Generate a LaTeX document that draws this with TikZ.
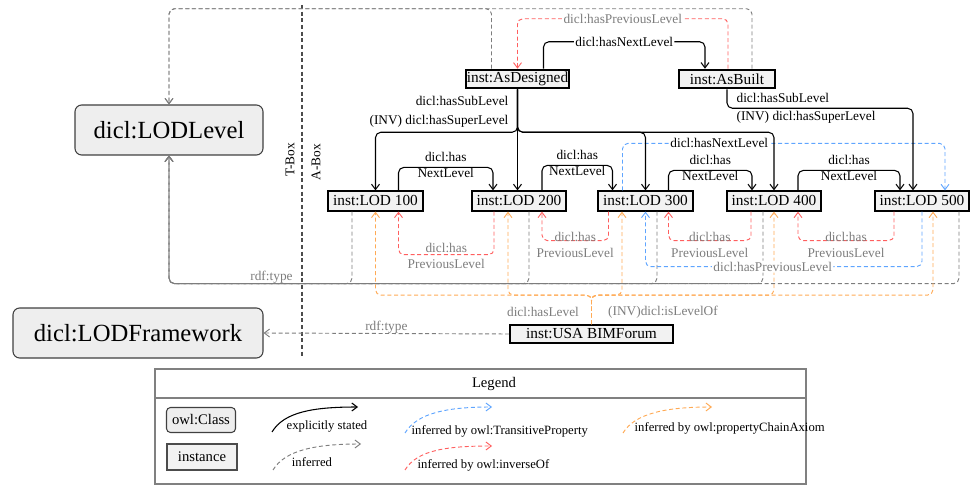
\documentclass[tikz,border=0pt]{standalone}
\usepackage{fontspec}
\setmainfont{Liberation Serif}
\usepackage{xcolor}
\usepackage{tikz}
\usetikzlibrary{positioning,calc,arrows.meta}

\begin{document}
\begin{tikzpicture}[x=0.75pt,y=-0.75pt]
	\definecolor{lodgray}{RGB}{125,125,125}
	\definecolor{lodred}{RGB}{255,95,95}
	\definecolor{lodblue}{RGB}{95,165,255}
	\definecolor{lodorange}{RGB}{255,170,85}
	\definecolor{boxgray}{RGB}{238,238,238}
	\tikzset{
		cls/.style={
			rectangle,
			rounded corners=5pt,
			draw=black!75,
			fill=boxgray,
			line width=0.8pt,
			inner sep=0pt,
			font=\fontsize{18.5}{22}\selectfont
		},
		inst/.style={
			rectangle,
			draw=black,
			fill=black!5,
			line width=1.4pt,
			inner sep=0.5pt,
			minimum width=71pt,
			minimum height=14.5pt,
			font=\fontsize{11.5}{13}\selectfont
		},
		lbl/.style={
			font=\fontsize{10}{12}\selectfont,
			align=center,
			inner sep=1pt
		},
		lblg/.style={lbl, text=lodgray},
		conn/.style={
			rounded corners=4pt,
			-{Straight Barb[length=4pt,width=6pt]}
		},
		expl/.style={conn, draw=black, line width=0.8pt},
		inf/.style={conn, draw=lodgray, line width=0.7pt, dashed, dash pattern=on 3pt off 2pt},
		trans/.style={inf, draw=lodblue},
		inv/.style={inf, draw=lodred},
		chain/.style={inf, draw=lodorange},
		legbd/.style={draw=black!50, line width=1.5pt}
	}
	\useasboundingbox (0,0) rectangle (974,488);

	% ======= T-Box / A-Box =======
	\draw[draw=black!70, line width=1.2pt, dashed, dash pattern=on 3pt off 2pt] (302,5) -- (302,358);
	\node[lbl, rotate=90] (tbox) at (290,160) {T-Box};
	\node[lbl, rotate=90] (abox) at (316,162) {A-Box};

	% ======= Classes =======
	\node[cls, minimum width=141pt, minimum height=37.5pt] (lodlevel) at (169,130) {dicl:LODLevel};
	\node[cls, minimum width=187.5pt, minimum height=37.5pt] (lodframework) at (138,333) {dicl:LODFramework};

	% ======= Instances =======
	\node[inst, minimum width=76pt, minimum height=14pt] (asdesigned) at (517.5,79) {inst:AsDesigned};
	\node[inst, minimum width=72pt, minimum height=14pt] (asbuilt) at (727,79) {inst:AsBuilt};

	\node[inst] (lod100) at (375.5,201) {inst:LOD 100};
	\node[inst] (lod200) at (519,201) {inst:LOD 200};
	\node[inst] (lod300) at (645.5,201) {inst:LOD 300};
	\node[inst] (lod400) at (774,201) {inst:LOD 400};
	\node[inst] (lod500) at (922,201) {inst:LOD 500};

	\node[inst, minimum width=122pt, minimum height=13.5pt] (bimforum) at (591.5,334) {inst:USA BIMForum};

	% ======= rdf:type (inferred) =======
	\draw[inf] ($(asdesigned.north)+(-26,0)$) -- ++(0,-60) -| (lodlevel.north);
	\draw[inf] ($(asbuilt.north)+(25,0)$) -- ++(0,-60) -| (lodlevel.north);

	\draw[inf] ($(lod100.south)+(-23.5,0)$) -- ++(0,72) -| node[lblg, pos=0.22, above=-1pt] (typelbl) {rdf:type} (lodlevel.south);
	\draw[inf] ($(lod200.south)+(10,0)$) -- ++(0,72) -| (lodlevel.south);
	\draw[inf] ($(lod300.south)+(11.5,0)$) -- ++(0,72) -| (lodlevel.south);
	\draw[inf] ($(lod400.south)+(-11,0)$) -- ++(0,72) -| (lodlevel.south);
	\draw[inf] ($(lod500.south)+(37,0)$) -- ++(0,72) -| (lodlevel.south);

	\draw[inf] (bimforum.west) -- node[lblg, above=-1pt] (typelbl2) {rdf:type} (lodframework.east);

	% ======= dicl:hasLevel (property chain) =======
	\draw[chain] (bimforum.north) -- ++(0,-29) -| (lod100.south);
	\draw[chain] (bimforum.north) -- ++(0,-29) -| ($(lod200.south)+(-11,0)$);
	\draw[chain] (bimforum.north) -- ++(0,-29) -| ($(lod300.south)+(-23.5,0)$);
	\draw[chain] (bimforum.north) -- ++(0,-29) -| (lod400.south);
	\draw[chain] (bimforum.north) -- ++(0,-29) -| ($(lod500.south)+(11,0)$);
	\node[lblg] (haslevel) at (543,312) {dicl:hasLevel};
	\node[lblg] (islevelof) at (663,312) {(INV)dicl:isLevelOf};

	% ======= dicl:hasPreviousLevel (inverse) =======
	\draw[inv] ($(asbuilt.north)+(1,0)$) -- ++(0,-50) -| node[lblg, pos=0.25, fill=white] (prevtop) {dicl:hasPreviousLevel} (asdesigned.north);

	\draw[inv] ($(lod200.south)+(-25,0)$) -- ++(0,43) -| node[lblg, pos=0.25, yshift=-1pt] (prev1) {dicl:has\\PreviousLevel} ($(lod100.south)+(23,0)$);
	\draw[inv] ($(lod300.south)+(-37,0)$) -- ++(0,29) -| node[lblg, pos=0.25, yshift=-3pt] (prev2) {dicl:has\\PreviousLevel} ($(lod200.south)+(23,0)$);
	\draw[inv] ($(lod400.south)+(-23,0)$) -- ++(0,29) -| node[lblg, pos=0.25, yshift=-3pt] (prev3) {dicl:has\\PreviousLevel} ($(lod300.south)+(23,0)$);
	\draw[inv] ($(lod500.south)+(-28,0)$) -- ++(0,29) -| node[lblg, pos=0.25, yshift=-3pt] (prev4) {dicl:has\\PreviousLevel} ($(lod400.south)+(24,0)$);

	% ======= transitive =======
	\draw[trans] ($(lod300.north)+(-23,0)$) -- ++(0,-47) -| node[lbl, pos=0.15, fill=white] (nexttr) {dicl:hasNextLevel} ($(lod500.north)+(23,0)$);
	\draw[trans] (lod500.south) -- ++(0,55) -| node[lblg, pos=0.27, fill=white] (prevtr) {dicl:hasPreviousLevel} (lod300.south);

	% ======= explicitly stated =======
	\draw[expl] ($(asdesigned.north)+(26,0)$) -- ++(0,-27) -| node[lbl, pos=0.25, fill=white] (nexttop) {dicl:hasNextLevel} ($(asbuilt.north)+(-22,0)$);

	\draw[expl] (asdesigned.south) -- (asdesigned.south |- lod200.north);
	\draw[expl] (asdesigned.south) -- ++(0,43) -| (lod100.north);
	\draw[expl] (asdesigned.south) -- ++(0,43) -| (lod300.north);
	\draw[expl] (asdesigned.south) -- ++(0,43) -| (lod400.north);
	\node[lbl, align=right, anchor=east, font=\fontsize{10}{14}\selectfont] (sublbl1) at (510,112) {dicl:hasSubLevel\\(INV) dicl:hasSuperLevel};

	\draw[expl] (asbuilt.south) -- ++(0,19) -| ($(lod500.north)+(-9,0)$);
	\node[lbl, align=left, anchor=west, font=\fontsize{10}{13.5}\selectfont] (sublbl2) at (735,108) {dicl:hasSubLevel\\(INV) dicl:hasSuperLevel};

	\draw[expl] ($(lod100.north)+(23,0)$) -- ++(0,-23) -| node[lbl, pos=0.25, yshift=2pt] (next1) {dicl:has\\NextLevel} ($(lod200.north)+(-26,0)$);
	\draw[expl] ($(lod200.north)+(23,0)$) -- ++(0,-25) -| node[lbl, pos=0.25, yshift=2pt] (next2) {dicl:has\\NextLevel} ($(lod300.north)+(-33,0)$);
	\draw[expl] ($(lod300.north)+(23,0)$) -- ++(0,-20) -| node[lbl, pos=0.25, yshift=2pt] (next3) {dicl:has\\NextLevel} ($(lod400.north)+(-22,0)$);
	\draw[expl] ($(lod400.north)+(24,0)$) -- ++(0,-20) -| node[lbl, pos=0.25, yshift=2pt] (next4) {dicl:has\\NextLevel} ($(lod500.north)+(-22,0)$);

	% ======= Legend =======
	\draw[legbd] (155,369) rectangle (806,484);
	\draw[legbd] (155,398) -- (806,398);
	\node[font=\fontsize{11}{13}\selectfont] (legtitle) at (494,384) {Legend};

	\node[cls, rounded corners=3pt, minimum width=51.75pt, minimum height=18.75pt, font=\fontsize{11}{13}\selectfont] (legcls) at (201,420) {owl:Class};
	\node[inst, draw=black!70, minimum width=52.5pt, minimum height=20pt, font=\fontsize{11}{13}\selectfont] (leginst) at (202,457) {instance};

	\coordinate (legexpA) at (272,432);
	\coordinate (legexpB) at (358,407);
	\coordinate (leginfA) at (273,470);
	\coordinate (leginfB) at (361,444);
	\coordinate (legtrA) at (405,433);
	\coordinate (legtrB) at (492,407);
	\coordinate (leginvA) at (405,470);
	\coordinate (leginvB) at (492,446);
	\coordinate (legchA) at (623,433);
	\coordinate (legchB) at (712,407);

	\draw[expl] (legexpA) .. controls +(12,-20) and +(-45,0) .. (legexpB);
	\draw[inf] (leginfA) .. controls +(12,-20) and +(-45,0) .. (leginfB);
	\draw[trans] (legtrA) .. controls +(12,-20) and +(-45,0) .. (legtrB);
	\draw[inv] (leginvA) .. controls +(12,-20) and +(-45,0) .. (leginvB);
	\draw[chain] (legchA) .. controls +(12,-20) and +(-45,0) .. (legchB);

	\node[font=\fontsize{9.5}{11}\selectfont] (legexp) at (327,426) {explicitly stated};
	\node[font=\fontsize{9.5}{11}\selectfont] (leginf) at (312,462) {inferred};
	\node[font=\fontsize{9.5}{11}\selectfont, anchor=west] (legtr) at (407,431) {inferred by owl:TransitiveProperty};
	\node[font=\fontsize{9.5}{11}\selectfont, anchor=west] (leginv) at (413,465) {inferred by owl:inverseOf};
	\node[font=\fontsize{9.5}{11}\selectfont, anchor=west] (legch) at (630,428) {inferred by owl:propertyChainAxiom};
\end{tikzpicture}
\end{document}
